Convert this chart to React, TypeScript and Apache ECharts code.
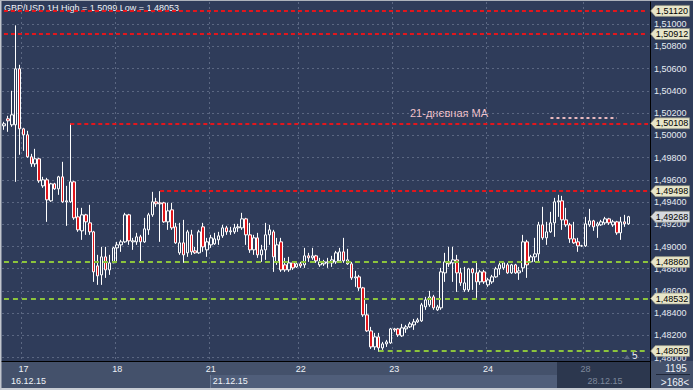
import React, { useEffect, useRef } from 'react';
import * as echarts from 'echarts';

// [open, close, low, high]
const ohlc: number[][] = [
  [1.50086, 1.50104, 1.5005, 1.50122],
  [1.50149, 1.50131, 1.50032, 1.50176],
  [1.50095, 1.50185, 1.50077, 1.50401],
  [1.50095, 1.50599, 1.49582, 1.5099],
  [1.50599, 1.50059, 1.49825, 1.50635],
  [1.50059, 1.50005, 1.49861, 1.50068],
  [1.50005, 1.49807, 1.49798, 1.50041],
  [1.49807, 1.49744, 1.49717, 1.49834],
  [1.49744, 1.49789, 1.49717, 1.49879],
  [1.49789, 1.49591, 1.49573, 1.49798],
  [1.49546, 1.496, 1.49528, 1.49627],
  [1.496, 1.4942, 1.49222, 1.49618],
  [1.49411, 1.49564, 1.49402, 1.49573],
  [1.49564, 1.49519, 1.4951, 1.49573],
  [1.49519, 1.49627, 1.49465, 1.49636],
  [1.49627, 1.49402, 1.49393, 1.49762],
  [1.49402, 1.49411, 1.49186, 1.49546],
  [1.49402, 1.49582, 1.49393, 1.50108],
  [1.49582, 1.49258, 1.4924, 1.49591],
  [1.49267, 1.4915, 1.49132, 1.49348],
  [1.49141, 1.49285, 1.4906, 1.49348],
  [1.49285, 1.49222, 1.49105, 1.49294],
  [1.49213, 1.49132, 1.49105, 1.49375],
  [1.49132, 1.48772, 1.48682, 1.49141],
  [1.48826, 1.48736, 1.48655, 1.48925],
  [1.48745, 1.48907, 1.48655, 1.48997],
  [1.48907, 1.4879, 1.48718, 1.48997],
  [1.4879, 1.48853, 1.48745, 1.48925],
  [1.48853, 1.48988, 1.48853, 1.48997],
  [1.48988, 1.49015, 1.48862, 1.49042],
  [1.49015, 1.49042, 1.48952, 1.4906],
  [1.49042, 1.49285, 1.49033, 1.49303],
  [1.49285, 1.49051, 1.49015, 1.49294],
  [1.49042, 1.49051, 1.4897, 1.49078],
  [1.49042, 1.49087, 1.49015, 1.49123],
  [1.49087, 1.49042, 1.48853, 1.49105],
  [1.49042, 1.49159, 1.49033, 1.49258],
  [1.4915, 1.49285, 1.49105, 1.49303],
  [1.49285, 1.49402, 1.49267, 1.49492],
  [1.49402, 1.49384, 1.49357, 1.49438],
  [1.49393, 1.49384, 1.49042, 1.49498],
  [1.49393, 1.49222, 1.49213, 1.49402],
  [1.49222, 1.49321, 1.4915, 1.49393],
  [1.4933, 1.49168, 1.4915, 1.49393],
  [1.49177, 1.49033, 1.49024, 1.49213],
  [1.48943, 1.49033, 1.48925, 1.49213],
  [1.49033, 1.48925, 1.48853, 1.4924],
  [1.48943, 1.49132, 1.48907, 1.4915],
  [1.49105, 1.48952, 1.48925, 1.4915],
  [1.48961, 1.48943, 1.48934, 1.48997],
  [1.48943, 1.49132, 1.48934, 1.4915],
  [1.49177, 1.48997, 1.48952, 1.49213],
  [1.4897, 1.49042, 1.48907, 1.49078],
  [1.49015, 1.49078, 1.48988, 1.49105],
  [1.49024, 1.49069, 1.49015, 1.49123],
  [1.4906, 1.49096, 1.49015, 1.49132],
  [1.49096, 1.49168, 1.49078, 1.49195],
  [1.49168, 1.49132, 1.49105, 1.49186],
  [1.49132, 1.49141, 1.49105, 1.49177],
  [1.49132, 1.49168, 1.49114, 1.49204],
  [1.49168, 1.49177, 1.49132, 1.49204],
  [1.49168, 1.49249, 1.4915, 1.49303],
  [1.49249, 1.49105, 1.49015, 1.49258],
  [1.49105, 1.4897, 1.48943, 1.49213],
  [1.4897, 1.49078, 1.48925, 1.49105],
  [1.49078, 1.48925, 1.48898, 1.49123],
  [1.48925, 1.4897, 1.48862, 1.49015],
  [1.4897, 1.49105, 1.4888, 1.49213],
  [1.49105, 1.4915, 1.49015, 1.49195],
  [1.49132, 1.48907, 1.48772, 1.4915],
  [1.48862, 1.49015, 1.48835, 1.49078],
  [1.49042, 1.4879, 1.48772, 1.49078],
  [1.48835, 1.4879, 1.48772, 1.48898],
  [1.4879, 1.48853, 1.48772, 1.48907],
  [1.48853, 1.48808, 1.4879, 1.48862],
  [1.48817, 1.48844, 1.48808, 1.48862],
  [1.48844, 1.48826, 1.48808, 1.48862],
  [1.48835, 1.48916, 1.48808, 1.48988],
  [1.48916, 1.48898, 1.48862, 1.48943],
  [1.48898, 1.48916, 1.4888, 1.48988],
  [1.48916, 1.48871, 1.48853, 1.48925],
  [1.48835, 1.48862, 1.48817, 1.48898],
  [1.48844, 1.48862, 1.48826, 1.4888],
  [1.48853, 1.48862, 1.48808, 1.48898],
  [1.48853, 1.4888, 1.48817, 1.48916],
  [1.48862, 1.48943, 1.48844, 1.48961],
  [1.48871, 1.48952, 1.48853, 1.48988],
  [1.48952, 1.48871, 1.48853, 1.49078],
  [1.48844, 1.4888, 1.48835, 1.48979],
  [1.48844, 1.48718, 1.487, 1.48862],
  [1.48718, 1.48727, 1.48637, 1.48781],
  [1.48727, 1.48628, 1.48601, 1.48745],
  [1.48628, 1.48385, 1.48367, 1.48637],
  [1.48385, 1.48241, 1.48232, 1.48484],
  [1.48241, 1.48097, 1.48079, 1.48277],
  [1.48097, 1.48187, 1.4807, 1.48223],
  [1.48187, 1.48088, 1.48053, 1.48223],
  [1.48088, 1.48124, 1.4807, 1.48142],
  [1.48124, 1.48142, 1.48097, 1.4816],
  [1.48133, 1.48259, 1.48124, 1.48268],
  [1.48259, 1.4825, 1.48232, 1.48268],
  [1.48259, 1.48205, 1.48187, 1.48268],
  [1.48196, 1.48268, 1.48187, 1.48304],
  [1.48259, 1.48277, 1.48223, 1.48295],
  [1.48277, 1.48304, 1.48268, 1.48322],
  [1.48295, 1.48322, 1.4825, 1.48349],
  [1.48322, 1.4834, 1.48313, 1.48358],
  [1.48331, 1.48475, 1.48322, 1.48493],
  [1.48457, 1.4852, 1.4843, 1.48547],
  [1.48475, 1.48547, 1.48457, 1.48601],
  [1.48547, 1.48448, 1.4843, 1.48565],
  [1.4843, 1.48457, 1.48421, 1.48475],
  [1.48448, 1.48772, 1.4843, 1.48808],
  [1.48763, 1.48862, 1.48682, 1.48943],
  [1.48862, 1.48844, 1.48817, 1.48997],
  [1.48853, 1.4888, 1.48682, 1.48997],
  [1.4888, 1.48763, 1.48592, 1.48925],
  [1.48763, 1.48673, 1.48646, 1.48808],
  [1.4861, 1.48673, 1.48592, 1.48817],
  [1.4861, 1.48799, 1.48592, 1.48808],
  [1.48799, 1.48763, 1.4861, 1.48808],
  [1.48763, 1.48682, 1.48538, 1.48853],
  [1.48682, 1.48772, 1.48655, 1.4879],
  [1.48772, 1.48682, 1.48664, 1.4879],
  [1.48655, 1.487, 1.48637, 1.48718],
  [1.48682, 1.48727, 1.48664, 1.48745],
  [1.48727, 1.48799, 1.48718, 1.48817],
  [1.48799, 1.48835, 1.48745, 1.48853],
  [1.48808, 1.48853, 1.4879, 1.48862],
  [1.48835, 1.48763, 1.48754, 1.48853],
  [1.48763, 1.48835, 1.48754, 1.48844],
  [1.48835, 1.48763, 1.48754, 1.48844],
  [1.48763, 1.48781, 1.487, 1.48817],
  [1.48808, 1.49042, 1.48772, 1.49105],
  [1.49042, 1.48835, 1.48718, 1.4906],
  [1.48862, 1.48907, 1.48853, 1.48925],
  [1.48907, 1.48934, 1.48862, 1.49078],
  [1.48934, 1.49195, 1.48862, 1.49222],
  [1.49195, 1.49078, 1.4906, 1.49357],
  [1.49078, 1.49132, 1.49015, 1.49222],
  [1.49132, 1.49213, 1.49123, 1.49312],
  [1.49213, 1.49402, 1.49087, 1.49438],
  [1.49402, 1.49411, 1.49267, 1.49465],
  [1.49411, 1.4924, 1.4915, 1.49456],
  [1.4924, 1.49195, 1.49177, 1.49348],
  [1.49195, 1.49069, 1.49033, 1.49213],
  [1.49069, 1.49033, 1.49024, 1.49222],
  [1.49042, 1.49006, 1.48952, 1.49078],
  [1.49006, 1.49006, 1.48997, 1.49015],
  [1.49006, 1.49204, 1.48997, 1.49267],
  [1.49195, 1.49231, 1.49177, 1.49339],
  [1.49231, 1.49177, 1.49141, 1.4924],
  [1.49186, 1.49204, 1.49078, 1.49222],
  [1.49195, 1.49222, 1.49186, 1.4924],
  [1.49213, 1.49249, 1.49195, 1.49267],
  [1.49249, 1.49213, 1.49195, 1.49258],
  [1.49195, 1.49222, 1.49177, 1.4924],
  [1.49222, 1.49123, 1.49105, 1.49231],
  [1.49123, 1.49222, 1.4906, 1.49267],
  [1.49222, 1.49204, 1.49177, 1.49285],
  [1.49204, 1.49268, 1.49195, 1.49276],
];

const barCount = 166;
const categories = Array.from({ length: barCount }, (_, i) => String(i));

const dayStarts = [5, 29, 53, 76, 100, 124, 149];
const dayLabels = ['17', '18', '21', '22', '23', '24', '28'];
const weekStarts = [0, 53, 149];
const weekLabels = ['16.12.15', '21.12.15', '28.12.15'];

const resistanceLevels = [1.5112, 1.50912, 1.50108, 1.49498];
const resistanceFrom = [0, 0, 17, 40];
const supportLevels = [1.4886, 1.48532, 1.48059];
const supportFrom = [0, 0, 96];
const lastPrice = 1.49268;
const maLevel = 1.50158;
const maFrom = 140;
const maTo = 157;

const titleText = 'GBP/USD 1H High = 1,5099 Low = 1,48053';
const maText = '21-дневная МА';
const shiftText = '5';
const barsText = '1195';
const visibleText = '>168<';

const FONT = '"Liberation Sans", Arial, Helvetica, sans-serif';
const BG = '#2f3c5a';
const fmt = (v: number) => v.toFixed(5).replace('.', ',');
const TAG_PATH = 'path://M0,5.5L5,0L40,0L40,11L5,11Z';

export default function App() {
  const ref = useRef<HTMLDivElement>(null);

  useEffect(() => {
    if (!ref.current) return;
    const chart = echarts.init(ref.current, null, { renderer: 'svg' });
    const last = barCount - 1;
    const darkFrom = dayStarts[dayStarts.length - 1];

    const lines: any[] = [];
    resistanceLevels.forEach((lv, k) => {
      lines.push([
        { coord: [resistanceFrom[k], lv], lineStyle: { color: '#e3161c', type: [4, 3], width: 2 } },
        { coord: [last, lv] },
      ]);
    });
    supportLevels.forEach((lv, k) => {
      lines.push([
        { coord: [supportFrom[k], lv], lineStyle: { color: '#8cc43c', type: [5, 4], width: 2 } },
        { coord: [last, lv] },
      ]);
    });
    lines.push([
      { coord: [maFrom, maLevel], lineStyle: { color: '#e9b8bd', type: [3, 3], width: 2 } },
      { coord: [maTo, maLevel] },
    ]);

    const tag = (lv: number, fill: string) => ({
      coord: [last, lv],
      symbol: TAG_PATH,
      symbolSize: [39, 11],
      symbolOffset: [22, 0],
      itemStyle: { color: fill, borderColor: '#8a8a7a', borderWidth: 0.5 },
      label: {
        show: true,
        position: 'inside',
        offset: [2, 0],
        formatter: fmt(lv),
        color: '#000',
        fontSize: 9,
        fontFamily: FONT,
      },
    });
    const tags = [
      ...resistanceLevels.map((lv) => tag(lv, '#e7e5c9')),
      ...supportLevels.map((lv) => tag(lv, '#e7e5c9')),
      tag(lastPrice, '#d6d9de'),
    ];

    const option: any = {
      animation: false,
      backgroundColor: BG,
      textStyle: { fontFamily: FONT },
      grid: { left: 2, right: 43, top: 2, bottom: 29, containLabel: false },
      xAxis: [
        {
          type: 'category',
          data: categories,
          boundaryGap: true,
          position: 'bottom',
          axisLine: { show: true, lineStyle: { color: '#000', width: 1 } },
          axisTick: { show: false },
          axisLabel: {
            interval: (i: number) => dayStarts.includes(i),
            formatter: (_v: string, i: number) => {
              const k = dayStarts.indexOf(i);
              if (k < 0) return '';
              return i >= darkFrom ? `{dim|${dayLabels[k]}}` : `{n|${dayLabels[k]}}`;
            },
            margin: 3,
            rich: {
              n: { color: '#eef2f8', fontSize: 9, fontFamily: FONT },
              dim: { color: '#7d879b', fontSize: 9, fontFamily: FONT },
            },
          },
          splitLine: {
            show: true,
            interval: (i: number) => dayStarts.includes(i),
            lineStyle: { color: '#5b6782', type: [2, 3], width: 1 },
          },
        },
        {
          type: 'category',
          data: categories,
          boundaryGap: true,
          position: 'bottom',
          offset: 12,
          axisLine: { show: false },
          axisTick: { show: false },
          splitLine: { show: false },
          axisLabel: {
            interval: (i: number) => weekStarts.includes(i),
            align: 'left',
            margin: 3,
            formatter: (_v: string, i: number) => {
              const k = weekStarts.indexOf(i);
              if (k < 0) return '';
              if (k === 0) return `{first|${weekLabels[k]}}`;
              return i >= darkFrom ? `{dim|${weekLabels[k]}}` : `{n|${weekLabels[k]}}`;
            },
            rich: {
              first: { color: '#eef2f8', fontSize: 9, fontFamily: FONT, padding: [0, 0, 0, 7] },
              n: { color: '#eef2f8', fontSize: 9, fontFamily: FONT, padding: [0, 0, 0, 2] },
              dim: { color: '#7d879b', fontSize: 9, fontFamily: FONT, padding: [0, 0, 0, 2] },
            },
          },
        },
      ],
      yAxis: {
        type: 'value',
        position: 'right',
        min: 1.4797,
        max: 1.512,
        minInterval: 0.002,
        maxInterval: 0.002,
        scale: true,
        axisLine: { show: true, lineStyle: { color: '#000', width: 1 } },
        axisTick: { show: false },
        axisLabel: {
          formatter: (v: number) => fmt(v),
          color: '#e6ebf3',
          fontSize: 9,
          fontFamily: FONT,
          margin: 4,
          showMinLabel: false,
          showMaxLabel: false,
        },
        splitLine: {
          show: true,
          showMinLine: false,
          showMaxLine: false,
          lineStyle: { color: '#5b6782', type: [2, 3], width: 1 },
        },
      },
      series: [
        {
          type: 'candlestick',
          data: ohlc,
          barWidth: 3,
          clip: false,
          silent: true,
          itemStyle: {
            color: BG,
            color0: '#e0161c',
            borderColor: '#ffffff',
            borderColor0: '#ffffff',
            borderColorDoji: '#ffffff',
            borderWidth: 1,
          },
          markLine: {
            silent: true,
            symbol: ['none', 'none'],
            label: { show: false },
            data: lines,
          },
          markPoint: {
            silent: true,
            data: tags,
          },
        },
      ],
      graphic: [
        { type: 'rect', z: -1, shape: { x: 0, y: 361, width: 693, height: 29 }, style: { fill: '#44516b' }, silent: true },
        { type: 'rect', z: -1, shape: { x: 210, y: 375, width: 347, height: 13 }, style: { fill: '#505e7a' }, silent: true },
        { type: 'rect', z: -1, shape: { x: 557, y: 362, width: 93, height: 26 }, style: { fill: '#2c374e' }, silent: true },
        { type: 'line', z: -1, shape: { x1: 210.5, y1: 375, x2: 210.5, y2: 388 }, style: { stroke: '#6d7a94', lineWidth: 1 }, silent: true },
        { type: 'line', shape: { x1: 650.5, y1: 361, x2: 650.5, y2: 389 }, style: { stroke: '#000', lineWidth: 1 }, silent: true },
        { type: 'line', shape: { x1: 656, y1: 374.5, x2: 690, y2: 374.5 }, style: { stroke: '#1f2738', lineWidth: 1 }, silent: true },
        { type: 'rect', shape: { x: 0, y: 388, width: 693, height: 2 }, style: { fill: '#c9cdd4' }, silent: true },
        { type: 'rect', shape: { x: 0, y: 0, width: 1.5, height: 390 }, style: { fill: '#c2c6ce' }, silent: true },
        { type: 'rect', shape: { x: 0, y: 0, width: 693, height: 1 }, style: { fill: '#aeb3bc' }, silent: true },
        {
          type: 'text', left: 4, top: 3, silent: true,
          style: { text: titleText, fill: '#eef2f8', font: `9px ${FONT}` },
        },
        {
          type: 'text', left: 410, top: 107, silent: true,
          style: { text: maText, fill: '#f3c3cc', font: `11px ${FONT}` },
        },
        {
          type: 'polygon', silent: true,
          shape: { points: [[624, 359], [630, 359], [627, 355]] },
          style: { fill: '#5d6780' },
        },
        {
          type: 'text', left: 632, top: 350, silent: true,
          style: { text: shiftText, fill: '#f0f2f6', font: `10px ${FONT}` },
        },
        {
          type: 'text', x: 676, y: 368, silent: true,
          style: { text: barsText, fill: '#eef2f8', font: `10px ${FONT}`, align: 'center', verticalAlign: 'middle' },
        },
        {
          type: 'text', x: 675, y: 382, silent: true,
          style: { text: visibleText, fill: '#eef2f8', font: `10px ${FONT}`, align: 'center', verticalAlign: 'middle' },
        },
      ],
    };

    chart.setOption(option);
    return () => chart.dispose();
  }, []);

  return (
    <div
      ref={ref}
      style={{ position: 'fixed', left: 0, top: 0, width: 693, height: 390 }}
    />
  );
}
